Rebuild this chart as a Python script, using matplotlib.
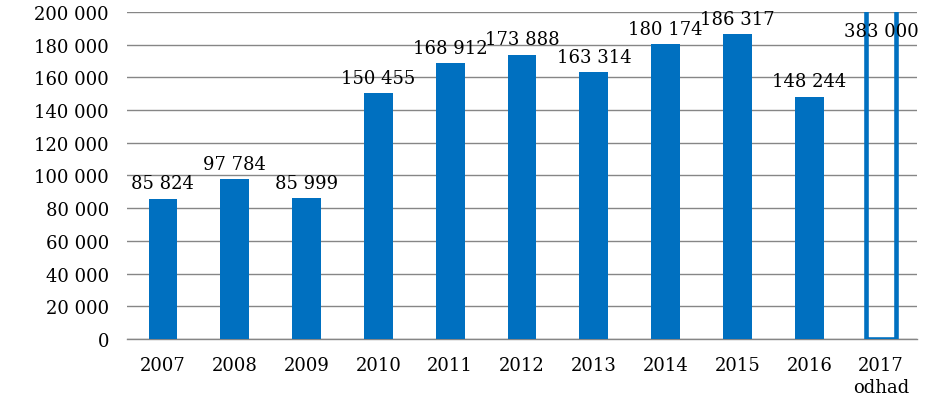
import numpy as np
import matplotlib
matplotlib.use('Agg')
import matplotlib.pyplot as plt
from matplotlib.ticker import FuncFormatter

years = ['2007', '2008', '2009', '2010', '2011', '2012', '2013', '2014', '2015', '2016', '2017\nodhad']
values = [85824, 97784, 85999, 150455, 168912, 173888, 163314, 180174, 186317, 148244, 383000]
estimate = [False] * 10 + [True]

blue = '#0070C0'
ymax = 200000


def fmt(v, pos=None):
    return '{:,}'.format(int(v)).replace(',', ' ')


plt.rcParams['font.family'] = ['DejaVu Serif']
plt.rcParams['font.size'] = 13

fig = plt.figure(figsize=(9.45, 4.06), dpi=100)
ax = fig.add_axes([0.1344, 0.1626, 0.836, 0.8054])

x = np.arange(len(years))
for i, (v, est) in enumerate(zip(values, estimate)):
    if est:
        ax.bar(x[i], v, width=0.42, facecolor='none', edgecolor=blue, linewidth=3.3, zorder=3)
        ax.annotate(fmt(v), (x[i], ymax), xytext=(0, -7.5), textcoords='offset points',
                    ha='center', va='top', zorder=4)
    else:
        ax.bar(x[i], v, width=0.4, color=blue, zorder=3)
        ax.annotate(fmt(v), (x[i], v), xytext=(0, 4.5), textcoords='offset points',
                    ha='center', va='bottom', zorder=4)

ax.set_xlim(-0.5, len(years) - 0.5)
ax.set_ylim(0, ymax)
ax.set_yticks(np.arange(0, ymax + 1, 20000))
ax.yaxis.set_major_formatter(FuncFormatter(fmt))
ax.set_xticks(x)
ax.set_xticklabels(years, linespacing=1.3)
ax.tick_params(axis='y', length=0, pad=13)
ax.tick_params(axis='x', length=0, pad=12)
ax.grid(axis='y', color='#868686', linewidth=1.0, zorder=0)
for s in ['top', 'right', 'left']:
    ax.spines[s].set_visible(False)
ax.spines['bottom'].set_color('#868686')
ax.spines['bottom'].set_linewidth(1.0)

plt.savefig('out.png', dpi=100)
